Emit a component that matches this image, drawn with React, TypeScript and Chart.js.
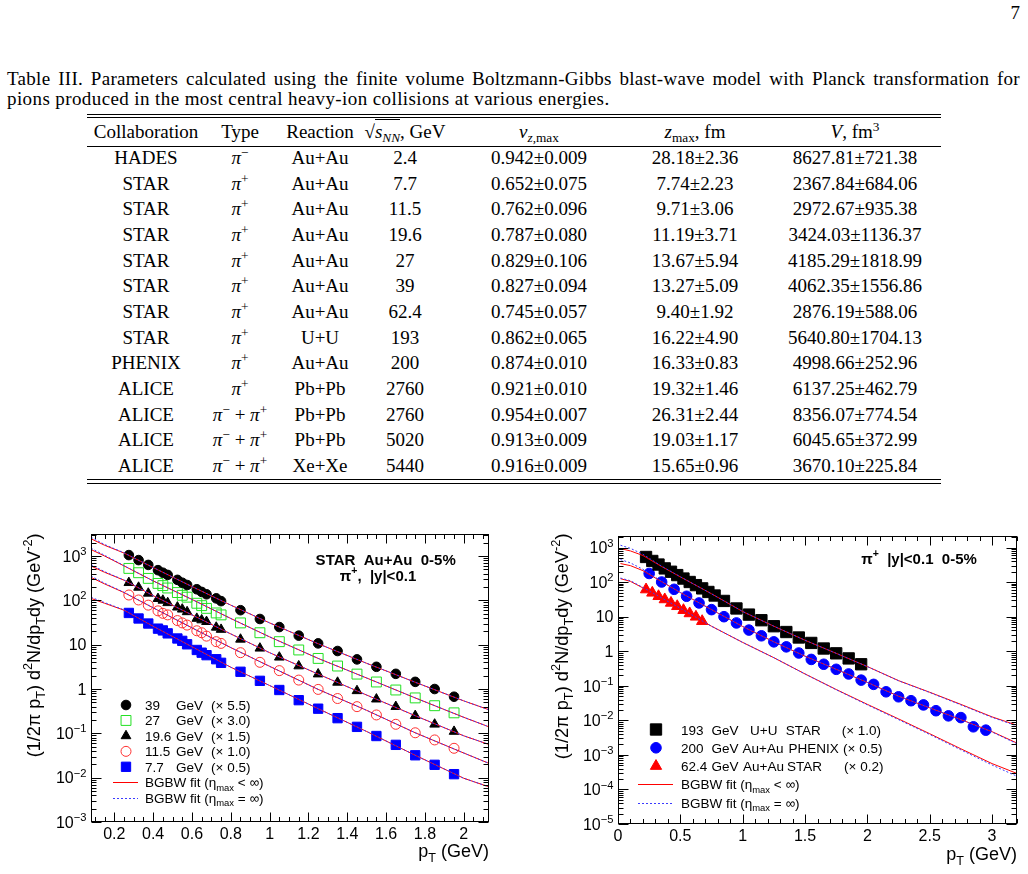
import React, { useEffect, useRef } from "react";
import { Chart, registerables } from "chart.js";

Chart.register(...registerables);

// ---------------- Table III values ----------------
const tableCollaboration = ["HADES", "STAR", "STAR", "STAR", "STAR", "STAR", "STAR", "STAR", "PHENIX", "ALICE", "ALICE", "ALICE", "ALICE"];
const tablePionType = ["-", "+", "+", "+", "+", "+", "+", "+", "+", "+", "-+", "-+", "-+"];
const tableReaction = ["Au+Au", "Au+Au", "Au+Au", "Au+Au", "Au+Au", "Au+Au", "Au+Au", "U+U", "Au+Au", "Pb+Pb", "Pb+Pb", "Pb+Pb", "Xe+Xe"];
const tableEnergy = ["2.4", "7.7", "11.5", "19.6", "27", "39", "62.4", "193", "200", "2760", "2760", "5020", "5440"];
const tableVzMax = ["0.942±0.009", "0.652±0.075", "0.762±0.096", "0.787±0.080", "0.829±0.106", "0.827±0.094", "0.745±0.057", "0.862±0.065", "0.874±0.010", "0.921±0.010", "0.954±0.007", "0.913±0.009", "0.916±0.009"];
const tableZMax = ["28.18±2.36", "7.74±2.23", "9.71±3.06", "11.19±3.71", "13.67±5.94", "13.27±5.09", "9.40±1.92", "16.22±4.90", "16.33±0.83", "19.32±1.46", "26.31±2.44", "19.03±1.17", "15.65±0.96"];
const tableVolume = ["8627.81±721.38", "2367.84±684.06", "2972.67±935.38", "3424.03±1136.37", "4185.29±1818.99", "4062.35±1556.86", "2876.19±588.06", "5640.80±1704.13", "4998.66±252.96", "6137.25±462.79", "8356.07±774.54", "6045.65±372.99", "3670.10±225.84"];

// ---------------- Left panel: STAR BES Au+Au 0-5%, pi+ ----------------
const besPt = [0.275, 0.325, 0.375, 0.425, 0.45, 0.475, 0.525, 0.55, 0.575, 0.625, 0.65, 0.675, 0.725, 0.75, 0.85, 0.95, 1.05, 1.15, 1.25, 1.35, 1.45, 1.55, 1.65, 1.75, 1.85, 1.95];
const star39 = [1050, 810, 630, 480, 420, 375, 290, 250, 222, 178, 155, 137, 111, 96, 60, 38, 25, 16, 10.7, 7.2, 4.66, 3.17, 2.2, 1.45, 1.0, 0.67];
const star27 = [526, 420, 313, 241, 215, 190, 150, 130, 118, 86, 76, 66, 52, 47, 31, 18.6, 11.7, 7.6, 4.9, 3.3, 2.17, 1.44, 0.95, 0.63, 0.42, 0.29];
const star196 = [250, 196, 144, 109, 100, 88, 70, 63, 55, 39, 36, 33, 24.6, 22, 13.2, 8.3, 5.2, 3.3, 2.17, 1.41, 0.91, 0.59, 0.4, 0.25, 0.16, 0.11];
const star115 = [132, 102, 78, 58, 51, 47, 35, 31, 27.7, 20.6, 18.6, 15.6, 11.7, 10.7, 6.6, 4.0, 2.6, 1.59, 0.98, 0.61, 0.4, 0.26, 0.16, 0.103, 0.071, 0.046];
const star77 = [52, 39, 30, 23, 21, 18, 13.8, 12.2, 10.2, 7.6, 6.6, 5.8, 4.7, 3.9, 2.45, 1.53, 0.95, 0.56, 0.36, 0.22, 0.14, 0.087, 0.055, 0.032, 0.0195, 0.012];

const fitPtLeft = [0.08, 0.15, 0.25, 0.4, 0.6, 0.8, 1.0, 1.25, 1.5, 1.75, 2.0, 2.13];
const fit39Finite = [2450, 1750, 1170, 550, 205, 78, 31, 10.5, 3.8, 1.42, 0.54, 0.34];
const fit39Infinite = [2650, 1820, 1180, 550, 205, 78, 31, 10.5, 3.8, 1.42, 0.54, 0.34];
const fit27Finite = [1400, 1000, 600, 275, 105, 39, 15, 4.9, 1.77, 0.63, 0.23, 0.14];
const fit27Infinite = [1500, 1040, 605, 275, 105, 39, 15, 4.9, 1.77, 0.63, 0.23, 0.14];
const fit196Finite = [595, 430, 285, 128, 47, 17.5, 6.6, 2.17, 0.73, 0.25, 0.088, 0.056];
const fit196Infinite = [640, 445, 288, 128, 47, 17.5, 6.6, 2.17, 0.73, 0.25, 0.088, 0.056];
const fit115Finite = [330, 235, 150, 68, 24, 8.6, 3.25, 0.98, 0.33, 0.103, 0.036, 0.021];
const fit115Infinite = [355, 243, 152, 68, 24, 8.6, 3.25, 0.98, 0.33, 0.103, 0.036, 0.021];
const fit77Finite = [111, 86, 60, 26, 9, 3.1, 1.2, 0.36, 0.11, 0.032, 0.0097, 0.0062];
const fit77Infinite = [118, 89, 61, 26, 9, 3.1, 1.2, 0.36, 0.11, 0.032, 0.0097, 0.0062];

const leftXTickValues = [0.2, 0.4, 0.6, 0.8, 1, 1.2, 1.4, 1.6, 1.8, 2];
const leftXTickLabels = ["0.2", "0.4", "0.6", "0.8", "1", "1.2", "1.4", "1.6", "1.8", "2"];
const leftYDecades = [-3, -2, -1, 0, 1, 2, 3];
const leftLegendEnergy = ["39", "27", "19.6", "11.5", "7.7"];
const leftLegendFactor = ["(× 5.5)", "(× 3.0)", "(× 1.5)", "(× 1.0)", "(× 0.5)"];

// ---------------- Right panel ----------------
const uuPt = [0.225, 0.275, 0.325, 0.375, 0.425, 0.475, 0.525, 0.575, 0.625, 0.675, 0.725, 0.775, 0.85, 0.95, 1.05, 1.15, 1.25, 1.35, 1.45, 1.55, 1.65, 1.75, 1.85, 1.95];
const uu193 = [535, 410, 323, 250, 200, 160, 127, 101, 82, 66, 52, 41, 28.6, 17.3, 11.5, 7.9, 5.3, 3.6, 2.5, 1.74, 1.2, 0.87, 0.62, 0.42];
const phenixPt = [0.25, 0.35, 0.45, 0.55, 0.65, 0.75, 0.85, 0.95, 1.05, 1.15, 1.25, 1.35, 1.45, 1.55, 1.65, 1.75, 1.85, 1.95, 2.05, 2.15, 2.25, 2.35, 2.45, 2.55, 2.65, 2.75, 2.85, 2.95];
const phenix200 = [178, 101, 62, 39, 25, 16, 10, 6.6, 4.1, 2.8, 1.87, 1.34, 0.89, 0.58, 0.42, 0.3, 0.22, 0.146, 0.11, 0.067, 0.048, 0.037, 0.028, 0.019, 0.0135, 0.012, 0.0065, 0.0052];
const star624Pt = [0.225, 0.275, 0.325, 0.375, 0.425, 0.475, 0.525, 0.575, 0.625, 0.675];
const star624 = [61, 49, 39, 31.5, 25, 20, 15.4, 12.4, 9.9, 7.4];

const fitPtRight = [0.02, 0.1, 0.2, 0.35, 0.5, 0.75, 1.0, 1.25, 1.5, 1.75, 2.0, 2.25, 2.5, 2.75, 3.0, 3.2];
const fitUUFinite = [935, 800, 590, 283, 142, 46, 14.1, 5.3, 2.08, 0.87, 0.36, 0.141, 0.065, 0.029, 0.0126, 0.0072];
const fitUUInfinite = [1170, 950, 640, 290, 143, 46, 14.1, 5.3, 2.08, 0.87, 0.36, 0.14, 0.064, 0.028, 0.0122, 0.0069];
const fitPhxFinite = [345, 300, 215, 103, 50, 16, 5.2, 1.87, 0.72, 0.3, 0.125, 0.05, 0.023, 0.0105, 0.0047, 0.0022];
const fitPhxInfinite = [450, 360, 235, 106, 50, 16, 5.2, 1.87, 0.72, 0.3, 0.125, 0.05, 0.023, 0.0104, 0.0046, 0.0021];
const fit624Finite = [126, 105, 68, 35, 17.5, 5.3, 1.8, 0.65, 0.22, 0.078, 0.029, 0.011, 0.0041, 0.0015, 0.00056, 0.00029];
const fit624Infinite = [131, 110, 70, 35, 17.5, 5.3, 1.8, 0.65, 0.22, 0.077, 0.028, 0.0105, 0.0039, 0.0014, 0.00051, 0.00024];

const rightXTickValues = [0, 0.5, 1, 1.5, 2, 2.5, 3];
const rightXTickLabels = ["0", "0.5", "1", "1.5", "2", "2.5", "3"];
const rightYDecades = [-5, -4, -3, -2, -1, 0, 1, 2, 3];
const rightLegendEnergy = ["193", "200", "62.4"];
const rightLegendSystem = ["U+U", "Au+Au", "Au+Au"];
const rightLegendExperiment = ["STAR", "PHENIX", "STAR"];
const rightLegendFactor = ["(× 1.0)", "(× 0.5)", "(× 0.2)"];

// ---------------- drawing helpers ----------------
const SANS = '"Liberation Sans", Arial, Helvetica, sans-serif';
const SERIF = '"Liberation Serif", "DejaVu Serif", "Times New Roman", serif';
const fnt = (size: number, bold = false) => `${bold ? "bold " : ""}${size}px ${SANS}`;

type Seg = { t: string; v?: "sub" | "sup" };

function segWidth(ctx: CanvasRenderingContext2D, segs: Seg[], size: number, bold = false) {
  let w = 0;
  for (const s of segs) {
    ctx.font = fnt(s.v ? size * 0.7 : size, bold);
    w += ctx.measureText(s.t).width;
  }
  return w;
}

function drawSegs(ctx: CanvasRenderingContext2D, segs: Seg[], x: number, y: number, size: number, align: "left" | "right" | "center", bold = false) {
  const w = segWidth(ctx, segs, size, bold);
  let cx = align === "left" ? x : align === "right" ? x - w : x - w / 2;
  ctx.textAlign = "left";
  ctx.textBaseline = "alphabetic";
  for (const s of segs) {
    const sz = s.v ? size * 0.7 : size;
    ctx.font = fnt(sz, bold);
    const dy = s.v === "sub" ? size * 0.28 : s.v === "sup" ? -size * 0.42 : 0;
    ctx.fillText(s.t, cx, y + dy);
    cx += ctx.measureText(s.t).width;
  }
}

type Marker = { style: string; r: number; fill: string; stroke: string; lw: number };

function drawMarker(ctx: CanvasRenderingContext2D, m: Marker, x: number, y: number) {
  ctx.beginPath();
  if (m.style === "circle") ctx.arc(x, y, m.r, 0, Math.PI * 2);
  else if (m.style === "rect") {
    const s = m.r * Math.SQRT1_2;
    ctx.rect(x - s, y - s, 2 * s, 2 * s);
  } else {
    ctx.moveTo(x, y - m.r);
    ctx.lineTo(x + 0.866 * m.r, y + 0.5 * m.r);
    ctx.lineTo(x - 0.866 * m.r, y + 0.5 * m.r);
    ctx.closePath();
  }
  ctx.fillStyle = m.fill;
  ctx.fill();
  ctx.lineWidth = m.lw;
  ctx.strokeStyle = m.stroke;
  ctx.stroke();
}

const RED = "#ff0000";
const BLUE_DOT = "#3a3aff";

function drawFitSample(ctx: CanvasRenderingContext2D, x0: number, x1: number, y: number, dotted: boolean) {
  ctx.save();
  ctx.beginPath();
  ctx.lineWidth = 1;
  ctx.strokeStyle = dotted ? BLUE_DOT : RED;
  ctx.setLineDash(dotted ? [2, 2] : []);
  ctx.moveTo(x0, Math.round(y) + 0.5);
  ctx.lineTo(x1, Math.round(y) + 0.5);
  ctx.stroke();
  ctx.restore();
}

const fitLabelFinite: Seg[] = [{ t: "BGBW fit (η" }, { t: "max", v: "sub" }, { t: " < ∞)" }];
const fitLabelInfinite: Seg[] = [{ t: "BGBW fit (η" }, { t: "max", v: "sub" }, { t: " = ∞)" }];

// marker styles
const mk39: Marker = { style: "circle", r: 4.8, fill: "#000000", stroke: "#000000", lw: 1 };
const mk27: Marker = { style: "rect", r: 7, fill: "rgba(0,0,0,0)", stroke: "#22e022", lw: 1 };
const mk196: Marker = { style: "triangle", r: 5.6, fill: "#000000", stroke: "#000000", lw: 1 };
const mk115: Marker = { style: "circle", r: 5, fill: "rgba(0,0,0,0)", stroke: "#ff3030", lw: 1 };
const mk77: Marker = { style: "rect", r: 6.6, fill: "#0000ff", stroke: "#0000ff", lw: 1 };
const mkUU: Marker = { style: "rect", r: 8, fill: "#000000", stroke: "#000000", lw: 1 };
const mkPHX: Marker = { style: "circle", r: 5.3, fill: "#0000ff", stroke: "#0000ff", lw: 1 };
const mk624: Marker = { style: "triangle", r: 6.5, fill: "#ff0000", stroke: "#ff0000", lw: 1 };

function markerSet(label: string, xs: number[], ys: number[], m: Marker) {
  return {
    label,
    data: xs.map((x, i) => ({ x, y: ys[i] })),
    showLine: false,
    pointStyle: m.style,
    pointRadius: m.r,
    pointHoverRadius: m.r,
    pointBackgroundColor: m.fill,
    pointBorderColor: m.stroke,
    pointBorderWidth: m.lw,
    order: 2,
  };
}

function fitSet(label: string, xs: number[], ys: number[], dotted: boolean) {
  return {
    label,
    data: xs.map((x, i) => ({ x, y: ys[i] })),
    showLine: true,
    pointRadius: 0,
    pointHoverRadius: 0,
    borderColor: dotted ? BLUE_DOT : RED,
    borderWidth: 1,
    borderDash: dotted ? [2, 2] : [],
    fill: false,
    tension: 0,
    order: dotted ? 0 : 1,
  };
}

const yTitleSegs: Seg[] = [
  { t: "(1/2π p" }, { t: "T", v: "sub" }, { t: ") d" }, { t: "2", v: "sup" }, { t: "N/dp" }, { t: "T", v: "sub" }, { t: "dy (GeV" }, { t: "-2", v: "sup" }, { t: ")" },
];
const xTitleSegs: Seg[] = [{ t: "p" }, { t: "T", v: "sub" }, { t: " (GeV)" }];

function makePlugin(spec: any) {
  return {
    id: "rootStyle",
    afterDatasetsDraw(chart: any) {
      const ctx = chart.ctx as CanvasRenderingContext2D;
      const a = chart.chartArea;
      const xs = chart.scales.x;
      const ys = chart.scales.y;
      ctx.save();
      ctx.strokeStyle = "#000";
      ctx.fillStyle = "#000";
      ctx.lineWidth = 1;
      ctx.setLineDash([]);
      const L = Math.round(a.left) + 0.5;
      const R = Math.round(a.right) - 0.5;
      const T = Math.round(a.top) + 0.5;
      const B = Math.round(a.bottom) - 0.5;
      ctx.strokeRect(L, T, R - L, B - T);
      ctx.beginPath();
      const k0 = Math.ceil(spec.xMin / spec.xMinor - 1e-6);
      const k1 = Math.floor(spec.xMax / spec.xMinor + 1e-6);
      for (let k = k0; k <= k1; k++) {
        const v = k * spec.xMinor;
        const r = v / spec.xMajor;
        const major = Math.abs(r - Math.round(r)) < 1e-6;
        const len = major ? 9 : 4.5;
        const px = Math.round(xs.getPixelForValue(v)) + 0.5;
        ctx.moveTo(px, B);
        ctx.lineTo(px, B - len);
        ctx.moveTo(px, T);
        ctx.lineTo(px, T + len);
      }
      const d0 = Math.floor(Math.log10(spec.yMin) + 1e-9);
      const d1 = Math.floor(Math.log10(spec.yMax) + 1e-9);
      for (let d = d0; d <= d1; d++) {
        for (let m = 1; m <= 9; m++) {
          const v = m * Math.pow(10, d);
          if (v < spec.yMin * 0.9999 || v > spec.yMax * 1.0001) continue;
          const py = Math.round(ys.getPixelForValue(v)) + 0.5;
          const len = m === 1 ? 10 : 5;
          ctx.moveTo(L, py);
          ctx.lineTo(L + len, py);
          ctx.moveTo(R, py);
          ctx.lineTo(R - len, py);
        }
      }
      ctx.stroke();

      ctx.fillStyle = "#000";
      spec.xTickValues.forEach((v: number, i: number) => {
        drawSegs(ctx, [{ t: spec.xTickLabels[i] }], xs.getPixelForValue(v), a.bottom + 16.5, 16, "center");
      });
      spec.yDecades.forEach((e: number) => {
        const py = ys.getPixelForValue(Math.pow(10, e));
        const segs: Seg[] = e === 0 ? [{ t: "1" }] : e === 1 ? [{ t: "10" }] : [{ t: "10" }, { t: e < 0 ? "−" + -e : String(e), v: "sup" }];
        drawSegs(ctx, segs, a.left - 4.5, py + 5.8, 16, "right");
      });

      // axis titles
      drawSegs(ctx, xTitleSegs, a.right, spec.xTitleBaseline, 18, "right");
      const w18 = segWidth(ctx, yTitleSegs, 18);
      const ts = (18 * spec.yTitleLength) / w18;
      ctx.save();
      ctx.translate(spec.yTitleCenterX, spec.yTitleTop);
      ctx.rotate(-Math.PI / 2);
      drawSegs(ctx, yTitleSegs, 0, ts * 0.36, ts, "right");
      ctx.restore();

      spec.decorate(ctx);
      ctx.restore();
    },
  };
}

function decorateLeft(ctx: CanvasRenderingContext2D) {
  ctx.fillStyle = "#000";
  drawSegs(ctx, [{ t: "STAR  Au+Au  0-5%" }], 385.7, 64.5, 15, "center", true);
  drawSegs(ctx, [{ t: "π" }, { t: "+", v: "sup" }, { t: ",  |y|<0.1" }], 378, 80.5, 15, "center", true);
  const markers = [mk39, mk27, mk196, mk115, mk77];
  const y0 = 205;
  const dy = 15.45;
  markers.forEach((m, i) => {
    const y = y0 + i * dy;
    drawMarker(ctx, m, 126, y);
    ctx.fillStyle = "#000";
    drawSegs(ctx, [{ t: leftLegendEnergy[i] }], 145, y + 5, 13.5, "left");
    drawSegs(ctx, [{ t: "GeV" }], 176, y + 5, 13.5, "left");
    drawSegs(ctx, [{ t: leftLegendFactor[i] }], 211, y + 5, 13.5, "left");
  });
  const yf = y0 + 5 * dy;
  drawFitSample(ctx, 113, 138, yf, false);
  ctx.fillStyle = "#000";
  drawSegs(ctx, fitLabelFinite, 145, yf + 5, 13.5, "left");
  const yi = y0 + 6 * dy;
  drawFitSample(ctx, 113, 138, yi, true);
  ctx.fillStyle = "#000";
  drawSegs(ctx, fitLabelInfinite, 145, yi + 5, 13.5, "left");
}

function decorateRight(ctx: CanvasRenderingContext2D) {
  ctx.fillStyle = "#000";
  drawSegs(ctx, [{ t: "π" }, { t: "+", v: "sup" }, { t: "  |y|<0.1  0-5%" }], 409, 63.5, 15, "center", true);
  const markers = [mkUU, mkPHX, mk624];
  const sysX = [240, 232.5, 233];
  const expX = [275.7, 278.5, 277];
  const facX = [331.7, 333, 334];
  const y0 = 229.5;
  const dy = 18.3;
  markers.forEach((m, i) => {
    const y = y0 + i * dy;
    drawMarker(ctx, m, 146, y);
    ctx.fillStyle = "#000";
    drawSegs(ctx, [{ t: rightLegendEnergy[i] }], 171, y + 5, 13.5, "left");
    drawSegs(ctx, [{ t: "GeV" }], 201.5, y + 5, 13.5, "left");
    drawSegs(ctx, [{ t: rightLegendSystem[i] }], sysX[i], y + 5, 13.5, "left");
    drawSegs(ctx, [{ t: rightLegendExperiment[i] }], expX[i], y + 5, 13.5, "left");
    drawSegs(ctx, [{ t: rightLegendFactor[i] }], facX[i], y + 5, 13.5, "left");
  });
  const yf = y0 + 3 * dy;
  drawFitSample(ctx, 128, 163, yf, false);
  ctx.fillStyle = "#000";
  drawSegs(ctx, fitLabelFinite, 171, yf + 5, 13.5, "left");
  const yi = y0 + 4 * dy;
  drawFitSample(ctx, 128, 163, yi, true);
  ctx.fillStyle = "#000";
  drawSegs(ctx, fitLabelInfinite, 171, yi + 5, 13.5, "left");
}

const leftSpec = {
  left: 0, top: 500, width: 510, height: 374,
  padding: { left: 91, right: 21, top: 34, bottom: 52 },
  xMin: 0.08, xMax: 2.13, yMin: 1e-3, yMax: 3140,
  xMajor: 0.2, xMinor: 0.05,
  xTickValues: leftXTickValues, xTickLabels: leftXTickLabels, yDecades: leftYDecades,
  xTitleBaseline: 356.5, yTitleCenterX: 33.5, yTitleTop: 33.5, yTitleLength: 224,
  decorate: decorateLeft,
  datasets: [
    fitSet("39 fit", fitPtLeft, fit39Finite, false),
    fitSet("39 fit inf", fitPtLeft, fit39Infinite, true),
    fitSet("27 fit", fitPtLeft, fit27Finite, false),
    fitSet("27 fit inf", fitPtLeft, fit27Infinite, true),
    fitSet("19.6 fit", fitPtLeft, fit196Finite, false),
    fitSet("19.6 fit inf", fitPtLeft, fit196Infinite, true),
    fitSet("11.5 fit", fitPtLeft, fit115Finite, false),
    fitSet("11.5 fit inf", fitPtLeft, fit115Infinite, true),
    fitSet("7.7 fit", fitPtLeft, fit77Finite, false),
    fitSet("7.7 fit inf", fitPtLeft, fit77Infinite, true),
    markerSet("39 GeV", besPt, star39, mk39),
    markerSet("27 GeV", besPt, star27, mk27),
    markerSet("19.6 GeV", besPt, star196, mk196),
    markerSet("11.5 GeV", besPt, star115, mk115),
    markerSet("7.7 GeV", besPt, star77, mk77),
  ],
};

const rightSpec = {
  left: 510, top: 500, width: 518, height: 374,
  padding: { left: 108, right: 11, top: 36, bottom: 50 },
  xMin: 0, xMax: 3.2, yMin: 1e-5, yMax: 2165,
  xMajor: 0.5, xMinor: 0.1,
  xTickValues: rightXTickValues, xTickLabels: rightXTickLabels, yDecades: rightYDecades,
  xTitleBaseline: 359.5, yTitleCenterX: 51.5, yTitleTop: 33.5, yTitleLength: 226,
  decorate: decorateRight,
  datasets: [
    fitSet("193 fit", fitPtRight, fitUUFinite, false),
    fitSet("193 fit inf", fitPtRight, fitUUInfinite, true),
    fitSet("200 fit", fitPtRight, fitPhxFinite, false),
    fitSet("200 fit inf", fitPtRight, fitPhxInfinite, true),
    fitSet("62.4 fit", fitPtRight, fit624Finite, false),
    fitSet("62.4 fit inf", fitPtRight, fit624Infinite, true),
    markerSet("193 GeV U+U STAR", uuPt, uu193, mkUU),
    markerSet("200 GeV Au+Au PHENIX", phenixPt, phenix200, mkPHX),
    markerSet("62.4 GeV Au+Au STAR", star624Pt, star624, mk624),
  ],
};

function SpectrumChart(props: { spec: any }) {
  const ref = useRef<HTMLCanvasElement>(null);
  const spec = props.spec;
  useEffect(() => {
    if (!ref.current) return;
    const chart = new Chart(ref.current, {
      type: "scatter",
      data: { datasets: spec.datasets },
      options: {
        responsive: false,
        maintainAspectRatio: false,
        animation: false,
        devicePixelRatio: 1,
        layout: { padding: spec.padding },
        events: [],
        plugins: { legend: { display: false }, tooltip: { enabled: false }, title: { display: false } },
        scales: {
          x: { type: "linear", min: spec.xMin, max: spec.xMax, display: false },
          y: { type: "logarithmic", min: spec.yMin, max: spec.yMax, display: false },
        },
      },
      plugins: [makePlugin(spec)],
    } as any);
    return () => chart.destroy();
  }, []);
  return (
    <canvas
      ref={ref}
      width={spec.width}
      height={spec.height}
      style={{ position: "absolute", left: spec.left, top: spec.top, width: spec.width, height: spec.height }}
    />
  );
}

// ---------------- Table rendering ----------------
const supS: React.CSSProperties = { fontSize: "0.7em", verticalAlign: "0.5em", lineHeight: 0 };
const subS: React.CSSProperties = { fontSize: "0.7em", verticalAlign: "-0.3em", lineHeight: 0 };

function Cell(props: { x: number; y: number; children: React.ReactNode }) {
  return (
    <div style={{ position: "absolute", left: props.x - 120, top: props.y - 12, width: 240, height: 24, lineHeight: "24px", textAlign: "center", whiteSpace: "nowrap", fontSize: 19 }}>
      {props.children}
    </div>
  );
}

function Rule(props: { y: number }) {
  return <div style={{ position: "absolute", left: 87, top: props.y, width: 854, height: 1, background: "#000" }} />;
}

function Pion(props: { code: string }) {
  const pi = (sign: string) => (
    <>
      <i>π</i>
      <span style={supS}>{sign}</span>
    </>
  );
  if (props.code === "-+") return <>{pi("−")} + {pi("+")}</>;
  return pi(props.code === "-" ? "−" : "+");
}

function TableIII() {
  const colX = [146, 240, 320, 405, 539, 695, 855];
  const headerY = 132;
  const rowY = tableCollaboration.map((_, i) => 158 + i * 25.67);
  return (
    <>
      <div style={{ position: "absolute", left: 7, top: 68, width: 1013, fontSize: 19, lineHeight: "22px", letterSpacing: "0.3px", textAlign: "justify", textAlignLast: "justify" as any }}>
        Table III. Parameters calculated using the finite volume Boltzmann-Gibbs blast-wave model with Planck transformation for
      </div>
      <div style={{ position: "absolute", left: 7, top: 88, fontSize: 19, lineHeight: "22px", letterSpacing: "0.4px", whiteSpace: "nowrap" }}>
        pions produced in the most central heavy-ion collisions at various energies.
      </div>
      <Rule y={113.5} />
      <Rule y={117} />
      <Cell x={colX[0]} y={headerY}>Collaboration</Cell>
      <Cell x={colX[1]} y={headerY}>Type</Cell>
      <Cell x={colX[2]} y={headerY}>Reaction</Cell>
      <Cell x={colX[3]} y={headerY}>
        √<span style={{ borderTop: "1px solid #000", paddingTop: 1 }}><i>s</i><span style={subS}><i>NN</i></span></span>, GeV
      </Cell>
      <Cell x={colX[4]} y={headerY}>
        <i>v</i><span style={subS}><i>z</i>,max</span>
      </Cell>
      <Cell x={colX[5]} y={headerY}>
        <i>z</i><span style={subS}>max</span>, fm
      </Cell>
      <Cell x={colX[6]} y={headerY}>
        <i>V</i>, fm<span style={supS}>3</span>
      </Cell>
      <Rule y={145.5} />
      {tableCollaboration.map((c, i) => (
        <React.Fragment key={i}>
          <Cell x={colX[0]} y={rowY[i]}>{c}</Cell>
          <Cell x={colX[1]} y={rowY[i]}><Pion code={tablePionType[i]} /></Cell>
          <Cell x={colX[2]} y={rowY[i]}>{tableReaction[i]}</Cell>
          <Cell x={colX[3]} y={rowY[i]}>{tableEnergy[i]}</Cell>
          <Cell x={colX[4]} y={rowY[i]}>{tableVzMax[i]}</Cell>
          <Cell x={colX[5]} y={rowY[i]}>{tableZMax[i]}</Cell>
          <Cell x={colX[6]} y={rowY[i]}>{tableVolume[i]}</Cell>
        </React.Fragment>
      ))}
      <Rule y={479} />
      <Rule y={482.5} />
    </>
  );
}

export default function App() {
  return (
    <div style={{ position: "absolute", left: 0, top: 0, width: 1028, height: 874, overflow: "hidden", background: "#fff", color: "#000", fontFamily: SERIF }}>
      <div style={{ position: "absolute", left: 990, top: 2, width: 30, textAlign: "right", fontSize: 19, lineHeight: "22px" }}>7</div>
      <TableIII />
      <SpectrumChart spec={leftSpec} />
      <SpectrumChart spec={rightSpec} />
    </div>
  );
}
